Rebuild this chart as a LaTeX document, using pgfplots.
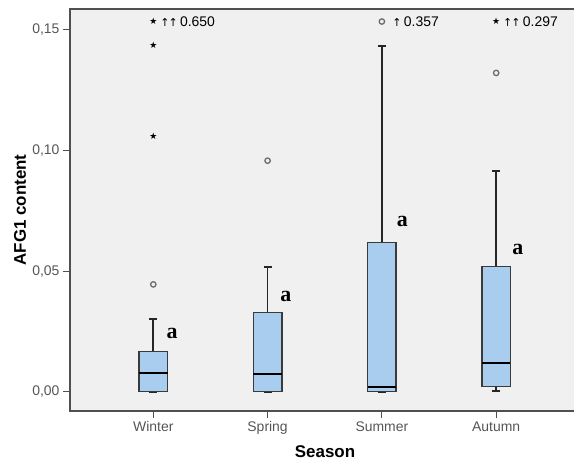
\documentclass[border=0pt]{standalone}
\usepackage{fontspec}
\setmainfont{Liberation Sans}
\newfontfamily\serifb{Liberation Serif}
\newfontfamily\dejavu{DejaVu Sans}
\usepackage{pgfplots}
\usepgfplotslibrary{statistics}
\pgfplotsset{compat=1.18}
\definecolor{bg}{HTML}{F0F0F0}
\definecolor{boxfill}{HTML}{A9CDEE}
\definecolor{framegray}{HTML}{505050}
\definecolor{boxedge}{HTML}{3A3A3A}
\definecolor{ticklab}{HTML}{555555}
\pgfplotsset{
 spssbox/.style={
   solid, draw=boxedge, fill=boxfill, line width=1.3pt, mark=none,
   boxplot/box extend=0.25,
   boxplot/whisker extend=0.07,
   boxplot/every box/.style={draw=boxedge, fill=boxfill, line width=1.4pt},
   boxplot/every median/.style={draw=black, line width=2pt},
   boxplot/every whisker/.style={draw=black!85, line width=1.8pt},
 },
}
\begin{document}
\begin{tikzpicture}
\useasboundingbox (-70bp,-57bp) rectangle (504bp,411bp);
\begin{axis}[
 at={(0,0)}, anchor=south west,
 scale only axis, width=508bp, height=402bp,
 xmin=0.271, xmax=4.716, ymin=-0.0080, ymax=0.1587,
 axis background/.style={fill=bg},
 axis line style={framegray, line width=1.2pt},
 tick pos=left, tick align=outside, major tick length=7bp,
 tick style={framegray, line width=1pt},
 xtick={1,2,3,4}, xticklabels={Winter,Spring,Summer,Autumn},
 ytick={0,0.05,0.1,0.15}, yticklabels={{0,00},{0,05},{0,10},{0,15}},
 tick label style={font=\fontsize{14}{16}\selectfont, text=ticklab},
 xlabel={Season},
 xlabel style={font=\bfseries\fontsize{17}{20}\selectfont, at={(axis description cs:0.502,-0.102)}, anchor=center},
 ylabel={AFG1 content},
 ylabel style={font=\bfseries\fontsize{17}{20}\selectfont, at={(axis description cs:-0.0984,0.5)}, anchor=center},
 boxplot/draw direction=y,
]
\addplot+[spssbox, boxplot prepared={draw position=1, lower whisker=0, lower quartile=0, median=0.0076, upper quartile=0.0167, upper whisker=0.0303}] coordinates {};
\addplot+[spssbox, boxplot prepared={draw position=2, lower whisker=0, lower quartile=0, median=0.0075, upper quartile=0.0328, upper whisker=0.0518}] coordinates {};
\addplot+[spssbox, boxplot prepared={draw position=3, lower whisker=0, lower quartile=0.0002, median=0.0021, upper quartile=0.0618, upper whisker=0.1433}] coordinates {};
\addplot+[spssbox, boxplot prepared={draw position=4, lower whisker=0.0004, lower quartile=0.0021, median=0.0119, upper quartile=0.0520, upper whisker=0.0915}] coordinates {};
% outliers (circles)
\addplot[only marks, mark=o, mark size=2.7bp, mark options={draw=gray!85!black, line width=1.3pt}] coordinates {(1,0.0445) (2,0.0958) (3,0.1535) (4,0.1322)};
% extreme values (stars)
\addplot[only marks, mark=text, text mark={\dejavu\fontsize{9}{9}\selectfont ★}] coordinates {(1,0.106) (1,0.1436) (1,0.1535) (4,0.1535)};
% off-scale labels
\node[anchor=west, inner sep=0pt, font=\fontsize{14}{16}\selectfont] at (axis cs:1.06,0.1535) {{\dejavu\fontsize{11}{12}\selectfont ↑\kern-1pt↑}\,0.650};
\node[anchor=west, inner sep=0pt, font=\fontsize{14}{16}\selectfont] at (axis cs:3.09,0.1535) {{\dejavu\fontsize{11}{12}\selectfont ↑}\,0.357};
\node[anchor=west, inner sep=0pt, font=\fontsize{14}{16}\selectfont] at (axis cs:4.06,0.1535) {{\dejavu\fontsize{11}{12}\selectfont ↑\kern-1pt↑}\,0.297};
% group letters
\node[font=\serifb\bfseries\fontsize{22}{22}\selectfont] at (axis cs:1.164,0.0243) {a};
\node[font=\serifb\bfseries\fontsize{22}{22}\selectfont] at (axis cs:2.16,0.0393) {a};
\node[font=\serifb\bfseries\fontsize{22}{22}\selectfont] at (axis cs:3.18,0.0704) {a};
\node[font=\serifb\bfseries\fontsize{22}{22}\selectfont] at (axis cs:4.19,0.0588) {a};
\end{axis}
\end{tikzpicture}
\end{document}
